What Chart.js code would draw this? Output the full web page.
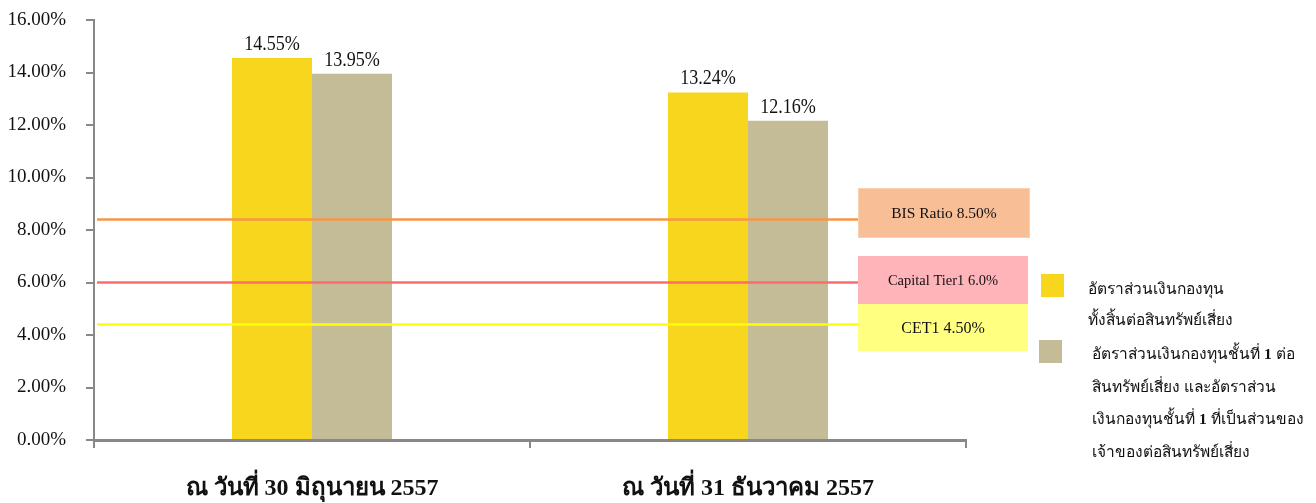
<!DOCTYPE html>
<html><head><meta charset="utf-8">
<script src="https://cdn.jsdelivr.net/npm/chart.js@4.4.0/dist/chart.umd.min.js"></script>
<style>html,body{margin:0;padding:0;background:#fff;}#wrap{width:1316px;height:503px;position:relative;}</style>
</head><body><div id="wrap"><canvas id="c" width="1316" height="503"></canvas></div>
<script>
const categories = ['ณ วันที่ 30 มิถุนายน 2557', 'ณ วันที่ 31 ธันวาคม 2557'];
const totalRatio = [14.55, 13.24];
const tier1Ratio = [13.95, 12.16];
const yTicks = [0, 2, 4, 6, 8, 10, 12, 14, 16];
const thresholdLabels = ['BIS Ratio 8.50%', 'Capital Tier1 6.0%', 'CET1 4.50%'];
const thresholdValues = [8.4, 6.0, 4.4];
const legendTotal = ['อัตราส่วนเงินกองทุน', 'ทั้งสิ้นต่อสินทรัพย์เสี่ยง'];
const legendTier1 = ['อัตราส่วนเงินกองทุนชั้นที่ 1 ต่อ', 'สินทรัพย์เสี่ยง และอัตราส่วน', 'เงินกองทุนชั้นที่ 1 ที่เป็นส่วนของ', 'เจ้าของต่อสินทรัพย์เสี่ยง'];

const SERIF = '"Liberation Serif", "Times New Roman", serif';
const YELLOW = '#F7D61D', KHAKI = '#C4BC96';

function condensedText(ctx, text, x, y, sx) {
  ctx.save();
  ctx.translate(x, y);
  ctx.scale(sx, 1);
  ctx.fillText(text, 0, 0);
  ctx.restore();
}

// draws a line, rendering the digit "1" in bold
function legendLine(ctx, text, x, y) {
  const parts = text.split(/(\s1\s)/);
  let cx = x;
  parts.forEach(p => {
    if (!p) return;
    ctx.font = (/^\s1\s$/.test(p) ? 'bold ' : '') + '15.5px ' + SERIF;
    ctx.fillText(p, cx, y);
    cx += ctx.measureText(p).width;
  });
}

const overlay = {
  id: 'overlay',
  afterDatasetsDraw(chart) {
    const ctx = chart.ctx, y = chart.scales.y, area = chart.chartArea;
    ctx.save();
    ctx.fillStyle = '#111';
    ctx.font = '21px ' + SERIF;
    ctx.textAlign = 'center';
    ctx.textBaseline = 'bottom';
    chart.data.datasets.forEach((ds, di) => {
      chart.getDatasetMeta(di).data.forEach((bar, i) => {
        condensedText(ctx, ds.data[i].toFixed(2) + '%', bar.x, bar.y - 3, 0.86);
      });
    });
    const lineColors = ['#F79646', '#FF6B6B', '#FFFF00'];
    const lineEnd = 858;
    thresholdValues.forEach((v, i) => {
      const py = y.getPixelForValue(v);
      ctx.strokeStyle = lineColors[i];
      ctx.lineWidth = 2.5;
      ctx.beginPath();
      ctx.moveTo(area.left + 3, py);
      ctx.lineTo(lineEnd, py);
      ctx.stroke();
    });
    const boxes = [
      {x: 858, y: 188, w: 172, h: 50, fill: '#F8BE96', stroke: '#F9D0B0', font: '15.5px'},
      {x: 858, y: 256, w: 170, h: 48, fill: '#FFB4BA', stroke: null, font: '14.5px'},
      {x: 858, y: 304, w: 170, h: 47, fill: '#FFFF80', stroke: null, font: '16px'}
    ];
    boxes.forEach((b, i) => {
      ctx.fillStyle = b.fill;
      ctx.fillRect(b.x, b.y, b.w, b.h);
      if (b.stroke) { ctx.strokeStyle = b.stroke; ctx.lineWidth = 1; ctx.strokeRect(b.x + 0.5, b.y + 0.5, b.w - 1, b.h - 1); }
      ctx.fillStyle = '#111';
      ctx.font = b.font + ' ' + SERIF;
      ctx.textAlign = 'center';
      ctx.textBaseline = 'middle';
      ctx.fillText(thresholdLabels[i], b.x + b.w / 2, b.y + b.h / 2 + 1);
    });
    ctx.fillStyle = YELLOW; ctx.fillRect(1041, 274, 23, 23);
    ctx.fillStyle = KHAKI; ctx.fillRect(1039, 340, 23, 23);
    ctx.fillStyle = '#111';
    ctx.textAlign = 'left';
    ctx.textBaseline = 'middle';
    legendTotal.forEach((t, i) => legendLine(ctx, t, 1088, 290 + i * 31));
    legendTier1.forEach((t, i) => legendLine(ctx, t, 1092, 355 + i * 32.5));
    ctx.restore();
  }
};

new Chart(document.getElementById('c'), {
  type: 'bar',
  data: {
    labels: categories,
    datasets: [
      {label: 'total', data: totalRatio, backgroundColor: YELLOW, categoryPercentage: 0.367, barPercentage: 1},
      {label: 'tier1', data: tier1Ratio, backgroundColor: KHAKI, categoryPercentage: 0.367, barPercentage: 1}
    ]
  },
  options: {
    responsive: false,
    animation: false,
    layout: {padding: {top: 20, right: 350, left: 0, bottom: 0}},
    plugins: {legend: {display: false}, tooltip: {enabled: false}},
    scales: {
      x: {
        afterFit(s) { s.height = 63; s.paddingLeft = 0; s.paddingRight = 0; },
        grid: {drawOnChartArea: false, offset: true, color: '#888', lineWidth: 2, tickLength: 8},
        border: {color: '#888', width: 3},
        ticks: {color: '#111', font: {family: SERIF, size: 24, weight: 'bold'}, padding: 26}
      },
      y: {
        min: 0, max: 16,
        afterFit(s) { s.width = 94; s.paddingTop = 0; s.paddingBottom = 0; },
        afterBuildTicks(s) { s.ticks = yTicks.map(v => ({value: v})); },
        grid: {drawOnChartArea: false, color: '#888', lineWidth: 2, tickLength: 8},
        border: {color: '#888', width: 2},
        ticks: {color: '#111', font: {family: SERIF, size: 19}, padding: 20,
          callback: v => Number(v).toFixed(2) + '%'}
      }
    }
  },
  plugins: [overlay]
});
</script></body></html>
